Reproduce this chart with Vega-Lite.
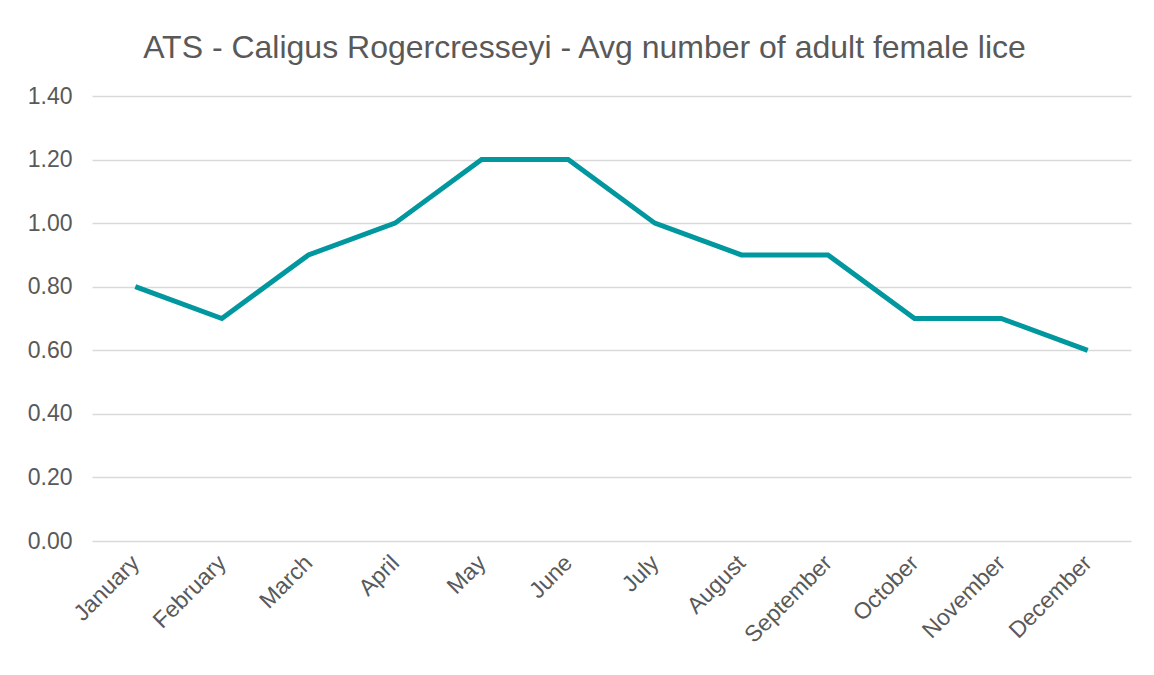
{
  "$schema": "https://vega.github.io/schema/vega-lite/v6.json",
  "autosize": {"type": "none"},
  "width": 1039,
  "height": 445,
  "padding": {"left": 92, "top": 96, "right": 23, "bottom": 134},
  "background": "white",
  "title": {
    "text": "ATS - Caligus Rogercresseyi - Avg number of adult female lice",
    "font": "Liberation Sans",
    "fontSize": 32,
    "fontWeight": "normal",
    "color": "#595959",
    "anchor": "middle",
    "baseline": "alphabetic",
    "offset": 39,
    "dx": -27,
    "dy": 44
  },
  "data": {
    "values": [
      {"month": "January", "lice": 0.8},
      {"month": "February", "lice": 0.7},
      {"month": "March", "lice": 0.9},
      {"month": "April", "lice": 1.0},
      {"month": "May", "lice": 1.2},
      {"month": "June", "lice": 1.2},
      {"month": "July", "lice": 1.0},
      {"month": "August", "lice": 0.9},
      {"month": "September", "lice": 0.9},
      {"month": "October", "lice": 0.7},
      {"month": "November", "lice": 0.7},
      {"month": "December", "lice": 0.6}
    ]
  },
  "mark": {"type": "line", "color": "#00979E", "strokeWidth": 5, "strokeJoin": "miter", "strokeCap": "butt"},
  "encoding": {
    "x": {
      "field": "month",
      "type": "ordinal",
      "sort": null,
      "scale": {"type": "point", "padding": 0.5},
      "axis": {
        "title": null,
        "labelAngle": -45,
        "labelAlign": "right",
        "labelBaseline": "middle",
        "labelPadding": 18,
        "labelFont": "Liberation Sans",
        "labelFontSize": 23,
        "labelColor": "#595959",
        "labelOverlap": false,
        "domain": false,
        "ticks": false,
        "grid": false
      }
    },
    "y": {
      "field": "lice",
      "type": "quantitative",
      "scale": {"domain": [0, 1.4], "nice": false},
      "axis": {
        "title": null,
        "values": [0, 0.2, 0.4, 0.6, 0.8, 1.0, 1.2, 1.4],
        "format": ".2f",
        "labelPadding": 20,
        "labelFont": "Liberation Sans",
        "labelFontSize": 23,
        "labelColor": "#595959",
        "domain": false,
        "ticks": false,
        "grid": true,
        "gridColor": "#D9D9D9",
        "gridWidth": 1.5
      }
    }
  },
  "config": {"view": {"stroke": null}}
}
